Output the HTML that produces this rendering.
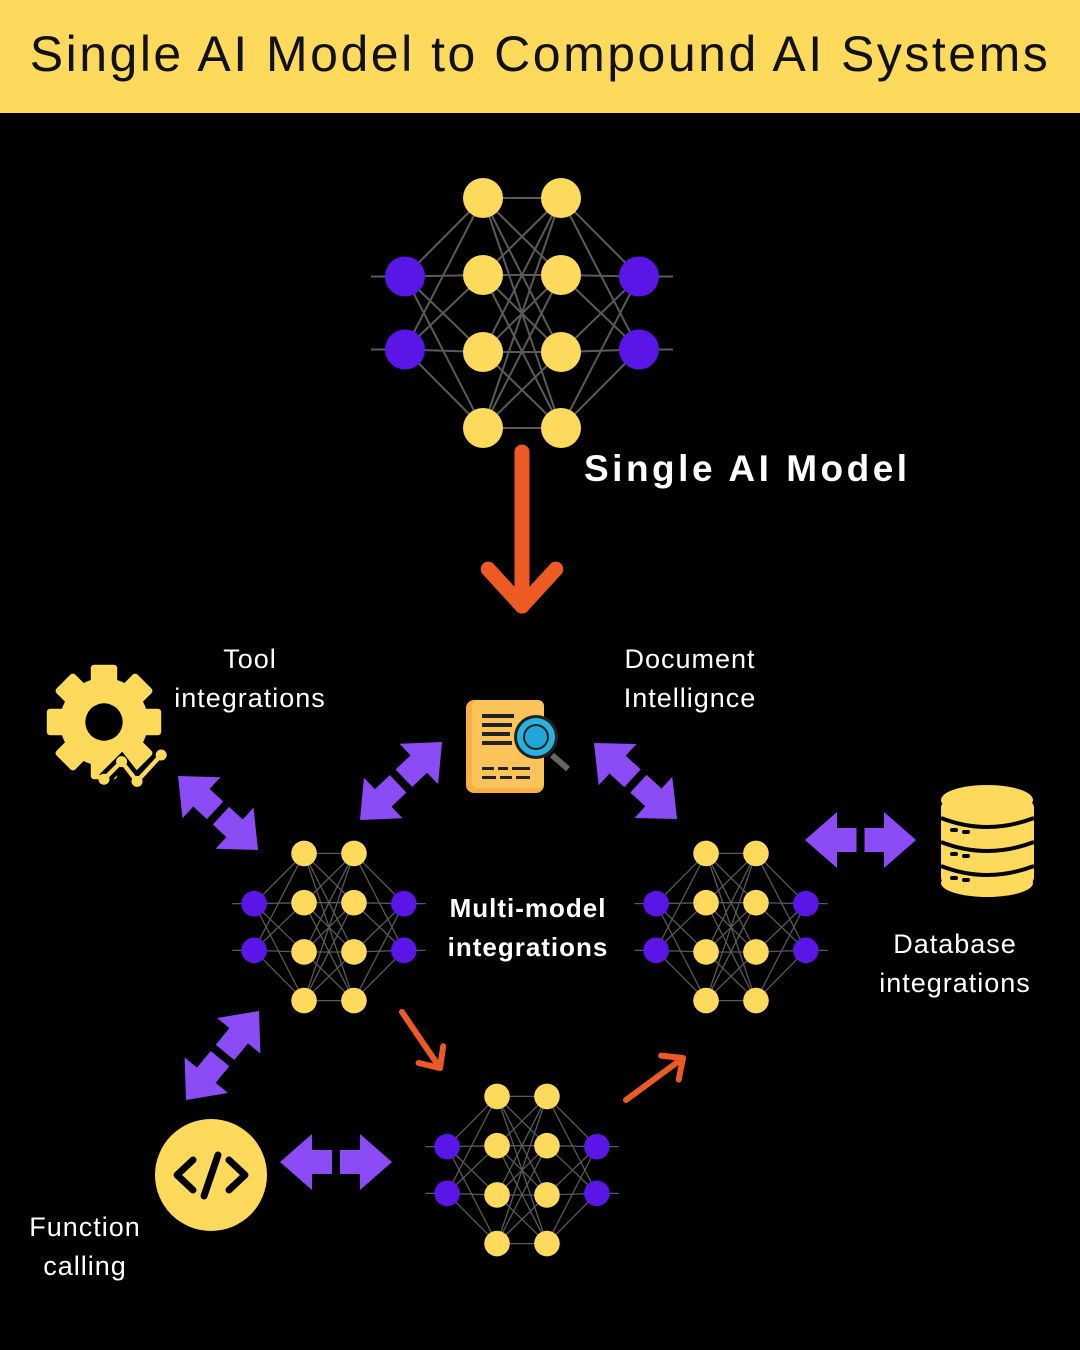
<!DOCTYPE html>
<html><head><meta charset="utf-8"><style>
html,body{margin:0;padding:0;background:#000;}
#c{position:relative;width:1080px;height:1350px;overflow:hidden;background:#000;font-family:"Liberation Sans",sans-serif;}
.t{position:absolute;color:#fff;font-size:27px;text-align:center;line-height:39px;}
</style></head><body><div id="c">
<div style="position:absolute;left:0;top:0;width:1080px;height:113px;background:#fdd95c;"></div>
<div style="position:absolute;left:0;top:25px;width:1080px;text-align:center;font-size:50px;color:#111;letter-spacing:2.5px;white-space:nowrap;">Single AI Model to Compound AI Systems</div>
<svg id="s" width="1080" height="1350" style="position:absolute;left:0;top:0">
<!-- gear -->
<g transform="translate(104,722) scale(1.1)" fill="#fdd95c">
<rect x="-12" y="-52" width="24" height="104" rx="3"/>
<rect x="-12" y="-52" width="24" height="104" rx="3" transform="rotate(45)"/>
<rect x="-12" y="-52" width="24" height="104" rx="3" transform="rotate(90)"/>
<rect x="-12" y="-52" width="24" height="104" rx="3" transform="rotate(135)"/>
<circle r="40"/><circle r="17" fill="#000"/>
<polyline points="0,52 16,36 30,54 52,30" fill="none" stroke="#000" stroke-width="12"/>
<polyline points="0,52 16,36 30,54 52,30" fill="none" stroke="#fdd95c" stroke-width="4"/>
<circle cx="0" cy="52" r="5"/><circle cx="16" cy="36" r="5"/><circle cx="30" cy="54" r="5"/><circle cx="52" cy="30" r="5"/>
</g>
<!-- document -->
<g>
<rect x="466" y="700" width="78" height="93" rx="8" fill="#f6b043"/>
<rect x="472" y="700" width="72" height="88" rx="6" fill="#fbc45a"/>
<g fill="#222"><rect x="482" y="714" width="32" height="4"/><rect x="482" y="723" width="30" height="4"/><rect x="482" y="732" width="28" height="4"/><rect x="482" y="741" width="30" height="4"/>
<rect x="482" y="767" width="12" height="3"/><rect x="498" y="767" width="10" height="3"/><rect x="512" y="767" width="18" height="3"/>
<rect x="482" y="776" width="14" height="3"/><rect x="500" y="776" width="12" height="3"/><rect x="516" y="776" width="14" height="3"/></g>
<line x1="552" y1="755" x2="568" y2="769" stroke="#666" stroke-width="6"/>
<circle cx="536" cy="737" r="22" fill="#222"/><circle cx="536" cy="737" r="19" fill="#29b2e0"/><circle cx="536" cy="737" r="13" fill="#222"/><circle cx="536" cy="737" r="11" fill="#1fa6d6"/>
</g>
<!-- database -->
<g fill="#fdd95c">
<rect x="941" y="800" width="93" height="85" rx="8"/>
<ellipse cx="987" cy="800" rx="46" ry="15"/>
<ellipse cx="987" cy="883" rx="46" ry="14"/>
<g stroke="#000" stroke-width="4" fill="none">
<path d="M941 818 Q987 836 1034 818"/><path d="M941 842 Q987 860 1034 842"/><path d="M941 866 Q987 884 1034 866"/></g>
<g fill="#000"><rect x="950" y="828" width="8" height="4" rx="2"/><rect x="962" y="830" width="8" height="4" rx="2"/><rect x="950" y="852" width="8" height="4" rx="2"/><rect x="962" y="854" width="8" height="4" rx="2"/><rect x="950" y="876" width="8" height="4" rx="2"/><rect x="962" y="878" width="8" height="4" rx="2"/></g>
</g>
<!-- code -->
<circle cx="211" cy="1175" r="56" fill="#fdd95c"/>
<g stroke="#000" stroke-width="7" fill="none" stroke-linecap="round" stroke-linejoin="round">
<polyline points="193,1160 177,1175 193,1190"/><polyline points="229,1160 245,1175 229,1190"/><line x1="218" y1="1155" x2="204" y2="1196"/></g>
</svg>
<div class="t" style="left:150px;top:640px;width:200px;letter-spacing:1px;">Tool<br>integrations</div>
<div class="t" style="left:595px;top:640px;width:190px;letter-spacing:1px;">Document<br>Intellignce</div>
<div class="t" style="left:855px;top:925px;width:200px;letter-spacing:1px;">Database<br>integrations</div>
<div class="t" style="left:10px;top:1208px;width:150px;letter-spacing:1px;">Function<br>calling</div>
<div class="t" style="left:584px;top:449px;font-size:37px;font-weight:bold;text-align:left;letter-spacing:3.5px;white-space:nowrap;">Single AI Model</div>
<div class="t" style="left:420px;top:889px;width:216px;font-size:26px;font-weight:bold;letter-spacing:1px;">Multi-model<br>integrations</div>
<script>
var s=document.getElementById('s'),NS='http://www.w3.org/2000/svg';
function el(n,a){var e=document.createElementNS(NS,n);for(var k in a)e.setAttribute(k,a[k]);s.appendChild(e);return e;}
function net(cx,cy,sc){
 var r=20*sc,L=[];
 var hx=39*sc,ix=117*sc,hy=[-115,-38,39,115].map(function(v){return v*sc}),iy=[-36.5,36.5].map(function(v){return v*sc});
 L.push(iy.map(function(y){return[cx-ix,cy+y]}));
 L.push(hy.map(function(y){return[cx-hx,cy+y]}));
 L.push(hy.map(function(y){return[cx+hx,cy+y]}));
 L.push(iy.map(function(y){return[cx+ix,cy+y]}));
 for(var l=0;l<3;l++)L[l].forEach(function(a){L[l+1].forEach(function(b){el('line',{x1:a[0],y1:a[1],x2:b[0],y2:b[1],stroke:'#5a5a5a','stroke-width':2*sc});});});
 L[0].forEach(function(a){el('line',{x1:a[0]-r-14*sc,y1:a[1],x2:a[0],y2:a[1],stroke:'#5a5a5a','stroke-width':2*sc});});
 L[3].forEach(function(a){el('line',{x1:a[0],y1:a[1],x2:a[0]+r+14*sc,y2:a[1],stroke:'#5a5a5a','stroke-width':2*sc});});
 L.forEach(function(g,i){g.forEach(function(p){el('circle',{cx:p[0],cy:p[1],r:r,fill:(i==0||i==3)?'#5a16e6':'#fdd95c'});});});
}
net(522,313,1);net(329,927,0.64);net(731,927,0.64);net(522,1170,0.64);
function dbl(x1,y1,x2,y2){
 var dx=x2-x1,dy=y2-y1,len=Math.hypot(dx,dy),ux=dx/len,uy=dy/len,px=-uy,py=ux,w=12,hw=28,hl=32,g=4;
 function P(t,o){return (x1+ux*t+px*o).toFixed(1)+','+(y1+uy*t+py*o).toFixed(1);}
 var m=len/2;
 el('polygon',{points:[P(0,0),P(hl,hw),P(hl,w),P(m-g,w),P(m-g,-w),P(hl,-w),P(hl,-hw)].join(' '),fill:'#8b4cf5'});
 el('polygon',{points:[P(len,0),P(len-hl,-hw),P(len-hl,-w),P(m+g,-w),P(m+g,w),P(len-hl,w),P(len-hl,hw)].join(' '),fill:'#8b4cf5'});
}
dbl(178,776,258,850);dbl(360,820,442,742);dbl(594,743,677,819);dbl(805,840,916,840);dbl(186,1100,259,1011);dbl(280,1162,392,1162);
function oar(x1,y1,x2,y2,w,h){
 el('line',{x1:x1,y1:y1,x2:x2,y2:y2,stroke:'#ee5a24','stroke-width':w,'stroke-linecap':'round'});
 var a=Math.atan2(y2-y1,x2-x1);
 [a+2.4,a-2.4].forEach(function(b){el('line',{x1:x2,y1:y2,x2:x2+Math.cos(b)*h,y2:y2+Math.sin(b)*h,stroke:'#ee5a24','stroke-width':w,'stroke-linecap':'round'});});
}
oar(522,452,522,606,15,50);oar(402,1012,440,1068,6,22);oar(626,1100,683,1058,6,22);
</script>
</div></body></html>
